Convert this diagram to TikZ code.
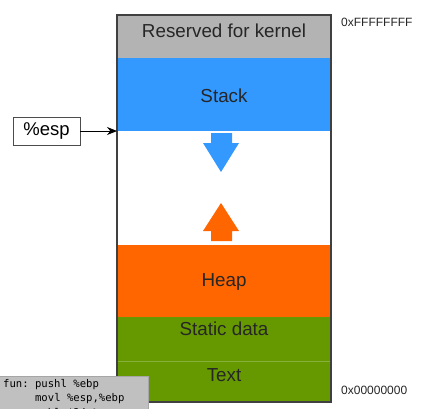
\documentclass[tikz,border=0pt]{standalone}
\usepackage{fontspec}
\setmainfont{Liberation Sans}
\newfontfamily\codefont{DejaVu Sans Mono}
\usetikzlibrary{arrows.meta}
\definecolor{kgray}{HTML}{B3B3B3}
\definecolor{sblue}{HTML}{3399FF}
\definecolor{horange}{HTML}{FF6600}
\definecolor{dgreen}{HTML}{669900}
\definecolor{sepgreen}{HTML}{86B03A}
\definecolor{labtxt}{HTML}{262626}
\definecolor{codebg}{HTML}{C0C0C0}
\begin{document}
\begin{tikzpicture}[x=1pt,y=-1pt,
  seg/.style={rectangle,inner sep=0pt,outer sep=0pt,minimum width=214pt,anchor=north west,draw=none},
  lab/.style={font=\fontsize{18.8}{21}\selectfont,text=labtxt,inner sep=0pt},
  hex/.style={font=\fontsize{12}{14}\selectfont,text=black!85,anchor=west,inner sep=0pt},
  espbox/.style={draw=black!70,line width=0.9pt,fill=white,minimum width=67pt,minimum height=28pt,inner sep=0pt,font=\fontsize{18.5}{21}\selectfont},
]
\useasboundingbox (0,0) rectangle (421,408);
% column segments
\node[seg,fill=kgray,minimum height=43pt] (kernel) at (117,15) {};
\node[seg,fill=sblue,minimum height=73pt] (stack) at (117,58) {};
\node[seg,fill=white,minimum height=114pt] (free) at (117,131) {};
\node[seg,fill=horange,minimum height=72pt] (heap) at (117,245) {};
\node[seg,fill=dgreen,minimum height=44pt] (static) at (117,317) {};
\node[seg,fill=dgreen,minimum height=41pt] (text) at (117,361) {};
\draw[sepgreen,line width=1pt] (static.south west) -- (static.south east);
\draw[black!75,line width=1.3pt] (kernel.north west) rectangle (text.south east);
% labels
\node[lab] (lk) at (224,31) {Reserved for kernel};
\node[lab] (ls) at (224,96) {Stack};
\node[lab] (lh) at (224,282) {Heap};
\node[lab] (lsd) at (224,329) {Static data};
\node[lab] (lt) at (224,375) {Text};
% growth arrows
\fill[sblue] (211,133) -- (232,133) -- (232,143) -- (239,143) -- (221,172) -- (203,143) -- (211,143) -- cycle;
\fill[horange] (221,203) -- (239,231) -- (232,231) -- (232,241) -- (211,241) -- (211,231) -- (203,231) -- cycle;
% hex labels
\node[hex] (hi) at (341,22) {0xFFFFFFFF};
\node[hex] (lo) at (341,390) {0x00000000};
% esp pointer
\node[espbox] (esp) at (46.5,131) {\%esp};
\coordinate (sp) at (117,131);
\draw[-{Stealth[length=10pt,width=8pt]},line width=0.9pt] (esp.east) -- (sp);
% code box
\node[draw=black!35,fill=codebg,line width=1pt,anchor=north west,minimum width=150pt,minimum height=50pt,inner sep=0pt] (code) at (-2,376) {};
\node[anchor=north west,inner sep=0pt,align=left,font=\codefont\fontsize{10.6}{14.5}\selectfont] (codetxt) at (3,379)
  {fun:\ pushl \%ebp\\\phantom{fun:\ }movl \%esp,\%ebp\\\phantom{fun:\ }subl \$24,\%esp};
\end{tikzpicture}
\end{document}
